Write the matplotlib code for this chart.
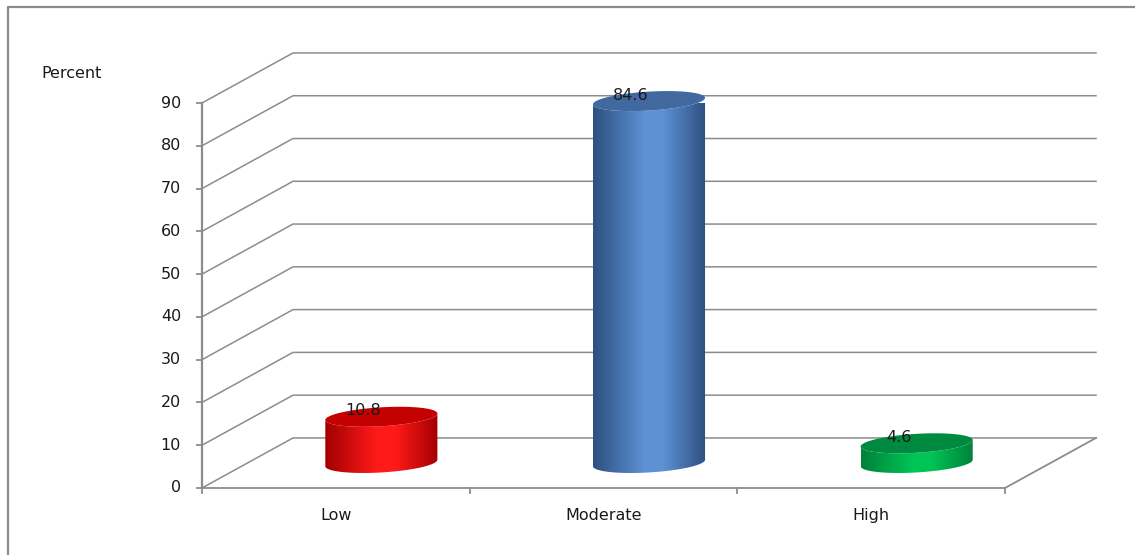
import numpy as np
import matplotlib.pyplot as plt
from matplotlib.colors import LinearSegmentedColormap
from matplotlib.patches import Polygon
from matplotlib.lines import Line2D

categories = ['Low', 'Moderate', 'High']
percent = [10.8, 84.6, 4.6]
yticks = [0, 10, 20, 30, 40, 50, 60, 70, 80, 90]

# side gradient (edge, highlight) and top cap colour per bar
side_cols = [('#a30000', '#ff1a1a'), ('#2d5080', '#5d91d4'), ('#00813a', '#00c455')]
cap_cols = ['#c40000', '#41699f', '#008a3f']

GRID = '#8c8c8c'
TXT = '#1a1a1a'
FS = 11.5
# oblique depth offset in data units (back wall shift)
DX, DY = 0.34, 11.7
RX, RD = 0.198, 0.2   # cylinder radius (x units, depth fraction)

fig = plt.figure(figsize=(11.35, 5.55), dpi=100)
ax = fig.add_axes([202 / 1135, 67 / 555, 803 / 1135, 385 / 555])
ax.set_axis_off()

def proj(x, y, d):
    return x + d * DX, y + d * DY

# walls and gridlines
for v in yticks:
    x0, y0 = proj(0, v, 0)
    x1, y1 = proj(0, v, 1)
    x2, y2 = proj(3, v, 1)
    ax.plot([x0, x1, x2], [y0, y1, y2], color=GRID, lw=1.1, clip_on=False, zorder=1)
    ax.plot([-0.018, 0], [v, v], color=GRID, lw=1.3, clip_on=False, zorder=1)
    ax.text(-0.078, v, str(v), ha='right', va='center', fontsize=FS, color=TXT)

# floor front edge and right edge
fx, fy = proj(3, 0, 1)
ax.plot([0, 3, fx], [0, 0, fy], color=GRID, lw=1.3, clip_on=False, zorder=1)
ax.plot([0, 0], [0, 90], color=GRID, lw=1.6, clip_on=False, zorder=1)
for i in range(4):
    ax.plot([i, i], [0, -1.2], color=GRID, lw=1.3, clip_on=False, zorder=1)

for i, name in enumerate(categories):
    ax.text(i + 0.5, -6.4, name, ha='center', va='center', fontsize=FS, color=TXT)

ax.text(-0.599, 96.8, 'Percent', ha='left', va='center', fontsize=FS, color=TXT)

# cylinders
t0 = np.arctan2(DX * RD, RX)
for i, val in enumerate(percent):
    cx = i + 0.5
    t = np.linspace(t0 + np.pi, t0 + 2 * np.pi, 80)
    bx, by = proj(cx + RX * np.cos(t), 0, 0.5 + RD * np.sin(t))
    tx, ty = proj(cx + RX * np.cos(t), val, 0.5 + RD * np.sin(t))
    side = np.column_stack([np.r_[bx, tx[::-1]], np.r_[by, ty[::-1]]])
    poly = Polygon(side, closed=True, facecolor='none', edgecolor='none', clip_on=False)
    ax.add_patch(poly)

    edge, hi = side_cols[i]
    cmap = LinearSegmentedColormap.from_list('c%d' % i, [edge, hi, hi, edge], N=256)
    grad = np.linspace(0, 1, 256)
    grad = np.where(grad < 0.55, grad / 0.55 * 0.4, 0.6 + (grad - 0.55) / 0.45 * 0.4)
    im = ax.imshow(grad[None, :], cmap=cmap, aspect='auto',
                   extent=[bx.min(), bx.max(), by.min(), ty.max()], zorder=3)
    im.set_clip_path(poly)

    tt = np.linspace(0, 2 * np.pi, 120)
    cxs, cys = proj(cx + RX * np.cos(tt), val, 0.5 + RD * np.sin(tt))
    ax.add_patch(Polygon(np.column_stack([cxs, cys]), closed=True, facecolor=cap_cols[i],
                         edgecolor='none', zorder=4, clip_on=False))

    lx, ly = proj(cx, val, 0.5)
    ax.text(lx - 0.068, ly + 1.4, '%.1f' % val, ha='center', va='center',
            fontsize=FS, color=TXT, zorder=5)

ax.set_xlim(0, 3)
ax.set_ylim(0, 90)

# chart area frame
fig.add_artist(Line2D([8 / 1135, 8 / 1135, 1.0], [0.0, 1 - 7 / 555, 1 - 7 / 555],
                      transform=fig.transFigure, color='#8a8a8a', lw=1.6))

fig.savefig('out.png', dpi=100)
